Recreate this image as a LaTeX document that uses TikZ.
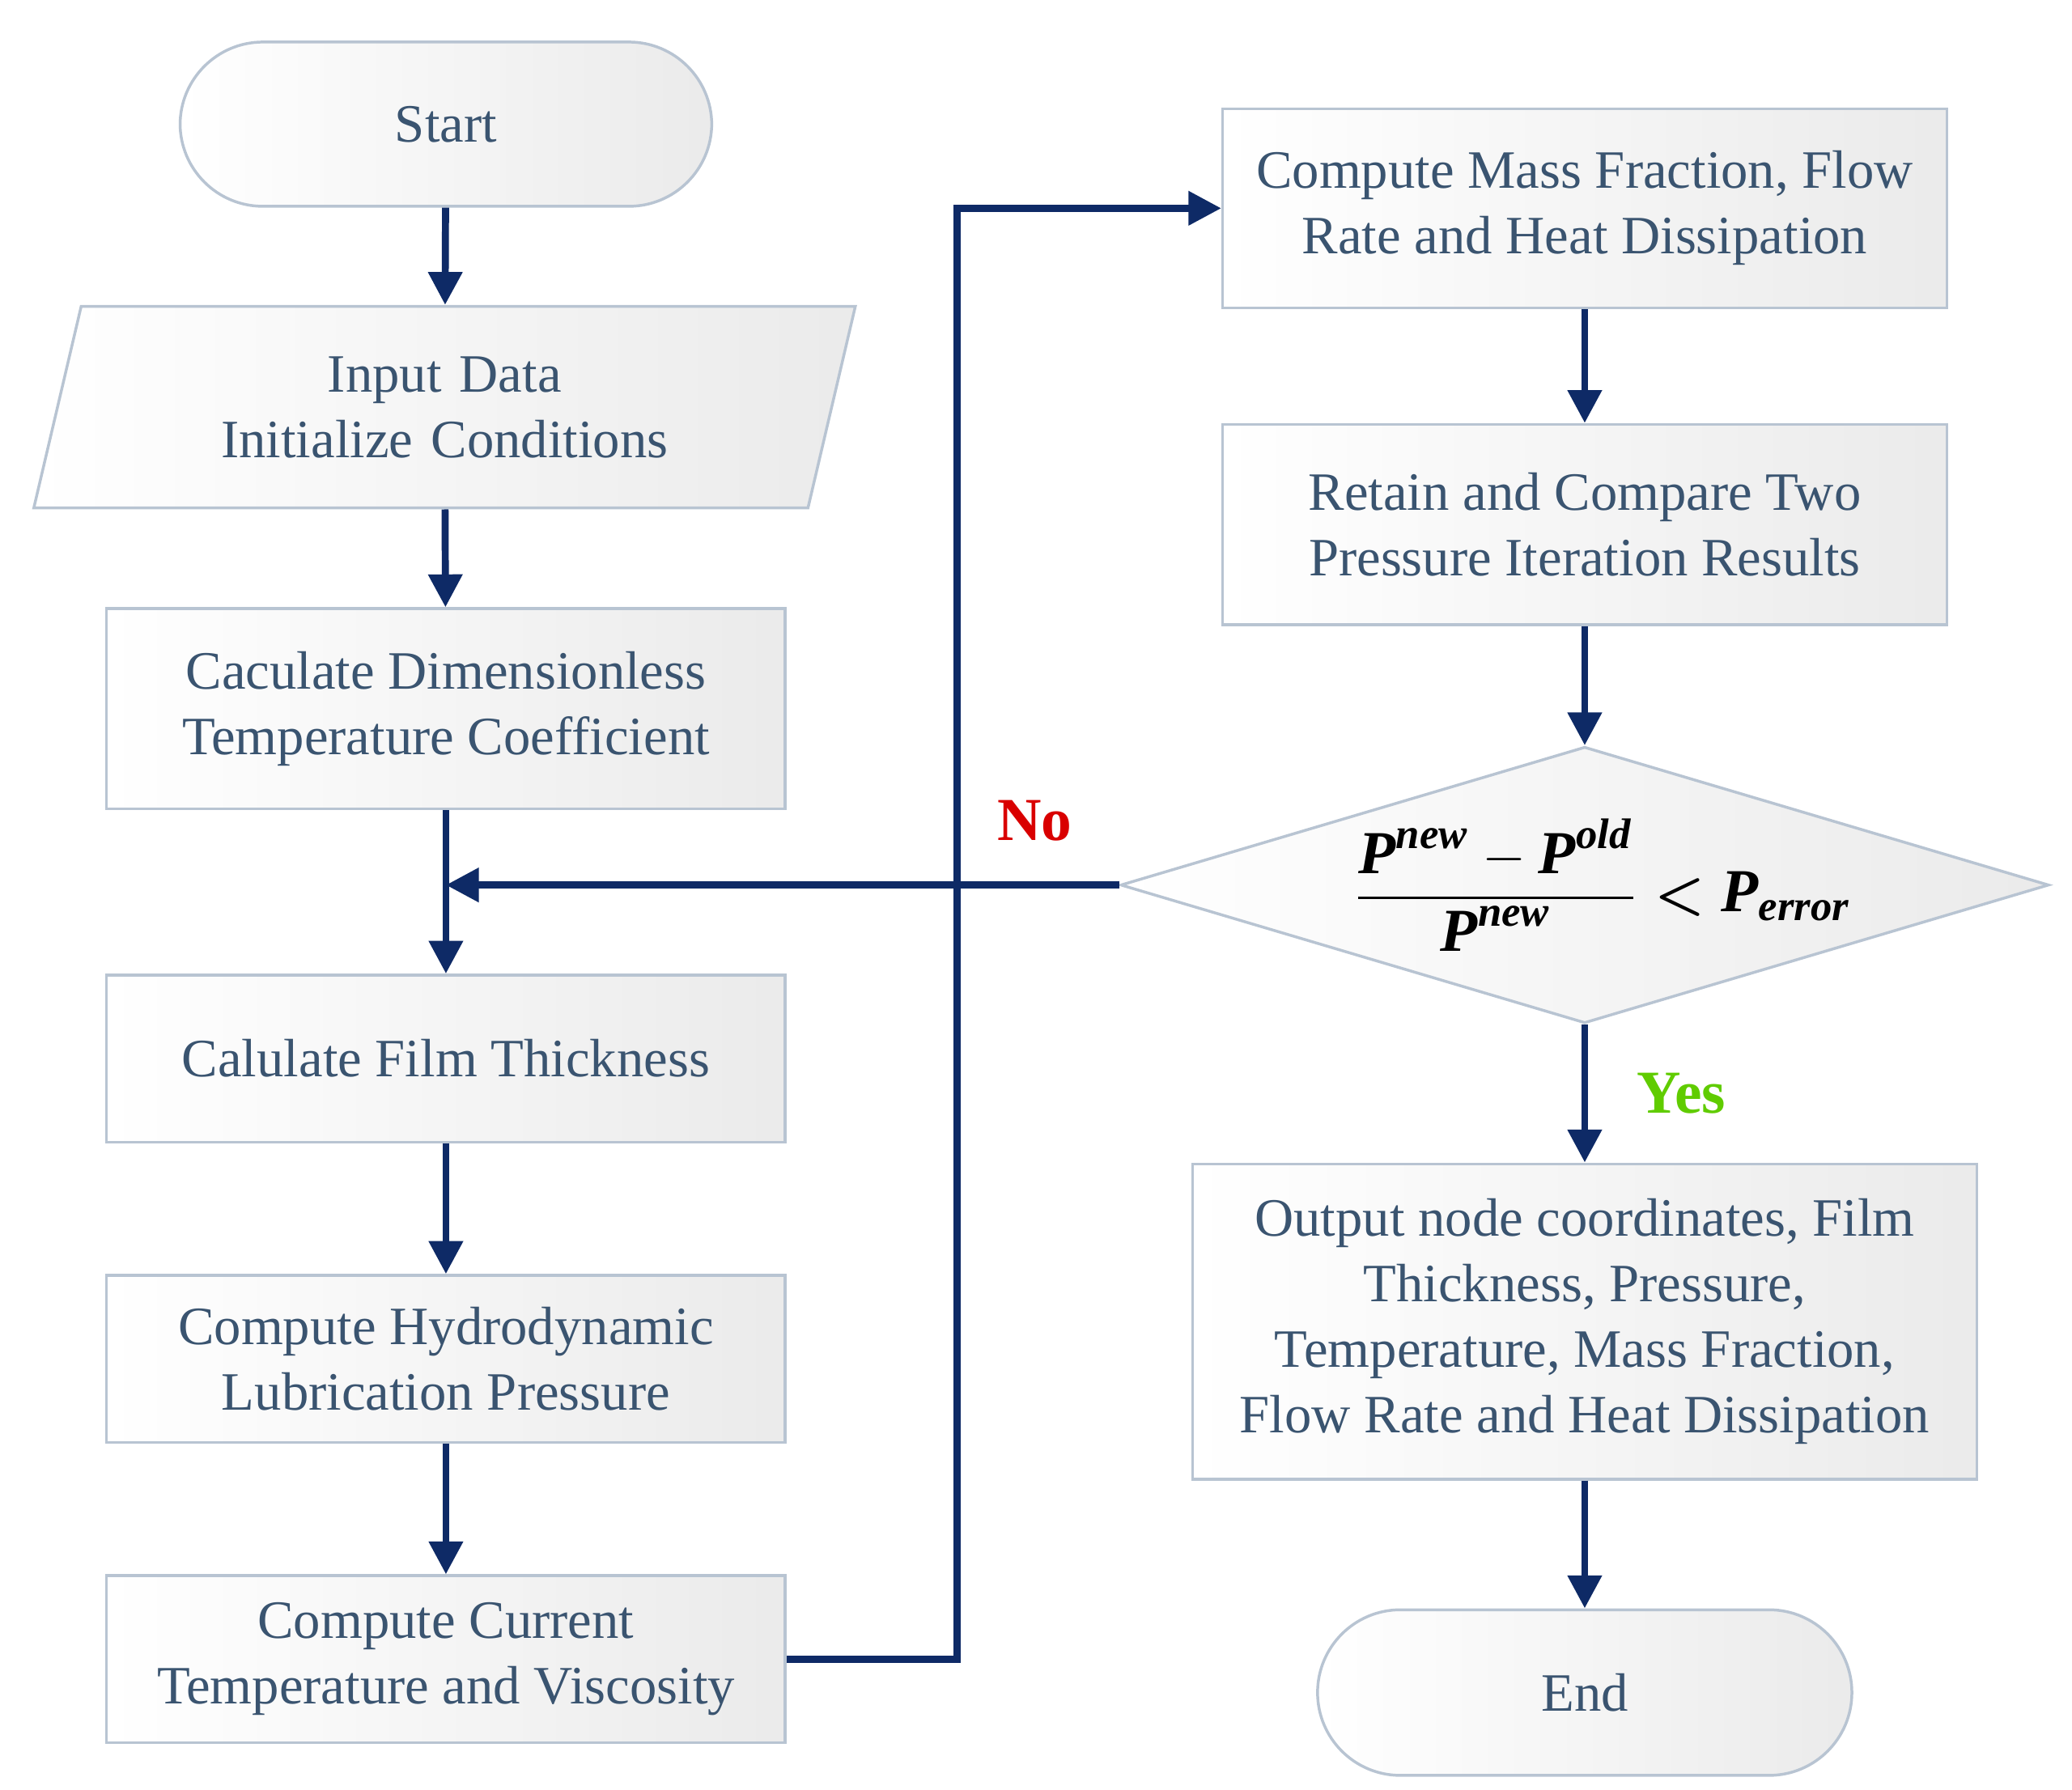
\documentclass[tikz,border=0pt]{standalone}
\usepackage{amsmath}
\usepackage{fontspec}
\setmainfont{Liberation Serif}
\usetikzlibrary{shapes.geometric,arrows.meta}
\definecolor{txt}{HTML}{3A5470}
\definecolor{arr}{HTML}{0E2A66}
\definecolor{bd}{HTML}{B8C4D2}
\begin{document}
\begin{tikzpicture}[x=0.01cm,y=-0.01cm,
  box/.style={draw=bd,line width=0.6pt,left color=white,right color=black!8,text=txt,
    font=\fontsize{11.5}{14}\selectfont,align=center,inner sep=0pt},
  rbox/.style={box,rectangle},
  arw/.style={draw=arr,line width=1.5pt,-{Triangle[length=7pt,width=7pt]}}]
\useasboundingbox (0,0) rectangle (1552,1341);
\node[box,rounded corners=0.62cm,minimum width=3.98cm,minimum height=1.23cm] (start) at (334,93) {Start};
\node[box,trapezium,trapezium left angle=65,trapezium right angle=115,minimum height=1.51cm,text width=4cm,trapezium stretches body,minimum width=6.15cm] (in) at (333,305) {Input Data\\Initialize Conditions};
\node[rbox,minimum width=5.08cm,minimum height=1.5cm] (dim) at (334,531) {Caculate Dimensionless\\Temperature Coefficient};
\node[rbox,minimum width=5.08cm,minimum height=1.25cm] (film) at (334,793) {Calulate Film Thickness};
\node[rbox,minimum width=5.08cm,minimum height=1.25cm] (hyd) at (334,1018) {Compute Hydrodynamic\\Lubrication Pressure};
\node[rbox,minimum width=5.08cm,minimum height=1.25cm] (cur) at (334,1243) {Compute Current\\Temperature and Viscosity};
\node[rbox,minimum width=5.42cm,minimum height=1.49cm] (mass) at (1187,156) {Compute Mass Fraction, Flow\\Rate and Heat Dissipation};
\node[rbox,minimum width=5.42cm,minimum height=1.5cm] (ret) at (1187,393) {Retain and Compare Two\\Pressure Iteration Results};
\node[box,diamond,aspect=3.36,minimum width=6.95cm,minimum height=2.07cm] (dia) at (1187,663) {};
\node[text=black,font=\fontsize{13}{15}\selectfont\bfseries] (f) at (1200,663) {$\dfrac{\textbf{\textit{P}}^{\textbf{\textit{new}}}-\textbf{\textit{P}}^{\textbf{\textit{old}}}}{\textbf{\textit{P}}^{\textbf{\textit{new}}}}\boldsymbol{<}\textbf{\textit{P}}_{\textbf{\textit{error}}}$};
\node[rbox,minimum width=5.87cm,minimum height=2.36cm] (out) at (1187,990) {Output node coordinates, Film\\Thickness, Pressure,\\Temperature, Mass Fraction,\\Flow Rate and Heat Dissipation};
\node[box,rounded corners=0.62cm,minimum width=4cm,minimum height=1.24cm] (end) at (1187,1268) {End};
\coordinate (j) at (334,663);
\draw[arw] (start) -- (in);
\draw[arw] (in) -- (dim);
\draw[arw] (dim) -- (film);
\draw[arw] (hyd.north|-film.south) -- (hyd);
\draw[arw] (hyd) -- (cur);
\draw[arw] (cur.east) -- (717,1243) -- (717,156) -- (mass.west);
\draw[arw] (mass) -- (ret);
\draw[arw] (ret) -- (dia);
\draw[arw] (dia.west) -- (j);
\draw[arw] (dia) -- node[right,pos=0.5,text=green!60!black!50!lime,font=\fontsize{13}{15}\selectfont\bfseries,xshift=0.25cm]{Yes} (out);
\draw[arw] (out) -- (end);
\node[text=red!85!black,font=\fontsize{13}{15}\selectfont\bfseries] (no) at (775,615) {No};
\end{tikzpicture}
\end{document}
